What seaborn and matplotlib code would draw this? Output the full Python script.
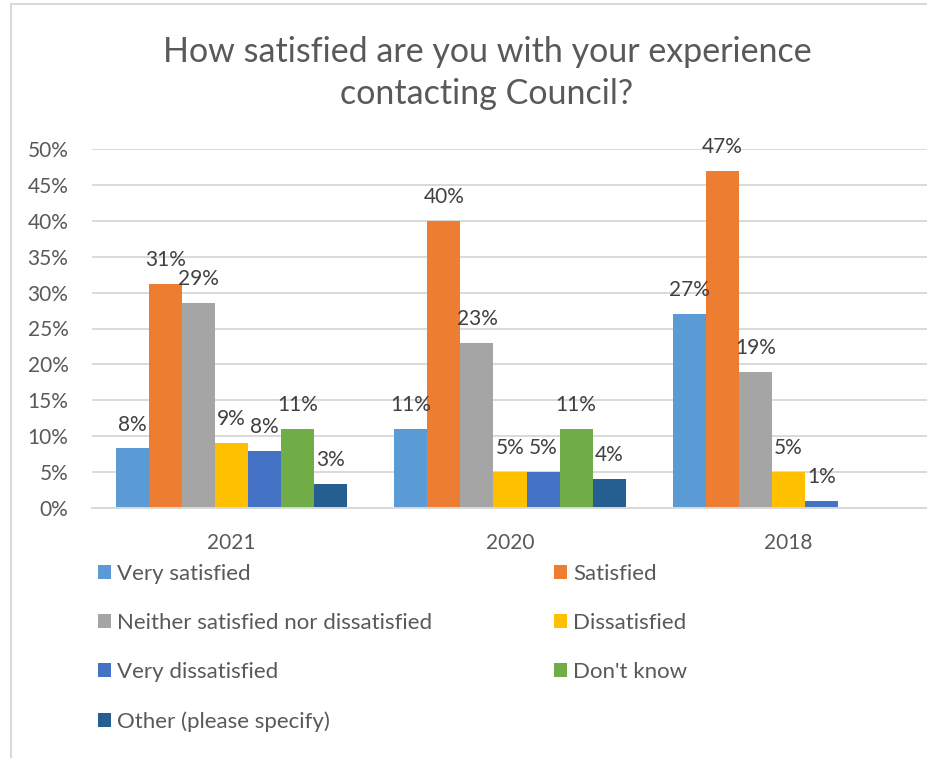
import matplotlib
matplotlib.use("Agg")
import matplotlib.pyplot as plt
from matplotlib.patches import Patch, Rectangle
import seaborn as sns
import pandas as pd

# Survey results (% of respondents) by year
years = ["2021", "2020", "2018"]
responses = [
    "Very satisfied",
    "Satisfied",
    "Neither satisfied nor dissatisfied",
    "Dissatisfied",
    "Very dissatisfied",
    "Don't know",
    "Other (please specify)",
]
very_satisfied = [8.3, 11.0, 27.0]
satisfied = [31.2, 40.0, 47.0]
neither = [28.6, 23.0, 19.0]
dissatisfied = [9.1, 5.0, 5.0]
very_dissatisfied = [7.9, 5.0, 1.0]
dont_know = [11.0, 11.0, None]
other = [3.4, 4.0, None]

colors = ["#5B9BD5", "#ED7D31", "#A5A5A5", "#FFC000", "#4472C4", "#70AD47", "#255E91"]

series = [very_satisfied, satisfied, neither, dissatisfied,
          very_dissatisfied, dont_know, other]
rows = []
for name, vals in zip(responses, series):
    for yr, v in zip(years, vals):
        if v is not None:
            rows.append({"Year": yr, "Response": name, "Percent": v})
df = pd.DataFrame(rows)

sns.set_theme(style="white")
plt.rcParams["font.family"] = ["Lato", "DejaVu Sans"]
text_grey = "#595959"
label_grey = "#404040"

W, H = 928, 758
fig = plt.figure(figsize=(W / 100, H / 100), dpi=100)
ax = fig.add_axes([92 / W, 1 - 508 / H, 836 / W, (508 - 149) / H])

sns.barplot(data=df, x="Year", y="Percent", hue="Response",
            order=years, hue_order=responses, palette=colors,
            saturation=1, width=0.829, gap=0, errorbar=None,
            legend=False, ax=ax, linewidth=0)

for cont in ax.containers:
    ax.bar_label(cont, fmt="{:.0f}%", padding=10, fontsize=15, color=label_grey)

ax.set_ylim(0, 50)
ax.set_yticks(range(0, 51, 5))
ax.set_yticklabels([f"{v}%" for v in range(0, 51, 5)])
ax.tick_params(axis="y", length=0, pad=17, labelsize=15, labelcolor=text_grey)
ax.tick_params(axis="x", length=0, pad=18, labelsize=15, labelcolor=text_grey)
ax.set_xlabel("")
ax.set_ylabel("")
ax.yaxis.grid(True, color="#D9D9D9", linewidth=1.4)
ax.set_axisbelow(True)
for side in ["left", "right", "top"]:
    ax.spines[side].set_visible(False)
ax.spines["bottom"].set_color("#D9D9D9")
ax.spines["bottom"].set_linewidth(1.4)

fig.text(487 / W, 1 - 73 / H,
         "How satisfied are you with your experience\ncontacting Council?",
         ha="center", va="center", fontsize=24.5, color=text_grey,
         linespacing=1.38)

# Two-column legend, filled row by row
handles = [Patch(facecolor=c, edgecolor="none") for c in colors]
legend_kw = dict(frameon=False, fontsize=16, labelcolor=text_grey,
                 handlelength=0.6, handleheight=0.6, handletextpad=0.25,
                 labelspacing=1.31, borderpad=0, borderaxespad=0,
                 loc="upper left")
fig.legend([handles[i] for i in (0, 2, 4, 6)],
           [responses[i] for i in (0, 2, 4, 6)],
           bbox_to_anchor=(98 / W, 1 - 564 / H), **legend_kw)
fig.legend([handles[i] for i in (1, 3, 5)],
           [responses[i] for i in (1, 3, 5)],
           bbox_to_anchor=(554 / W, 1 - 564 / H), **legend_kw)

# Chart-area frame
fig.patches.append(Rectangle((11 / W, -0.1), 1.2, 1.1 - 4 / H,
                             transform=fig.transFigure, fill=False,
                             edgecolor="#D9D9D9", linewidth=1.5))

fig.savefig("out.png", dpi=100)
